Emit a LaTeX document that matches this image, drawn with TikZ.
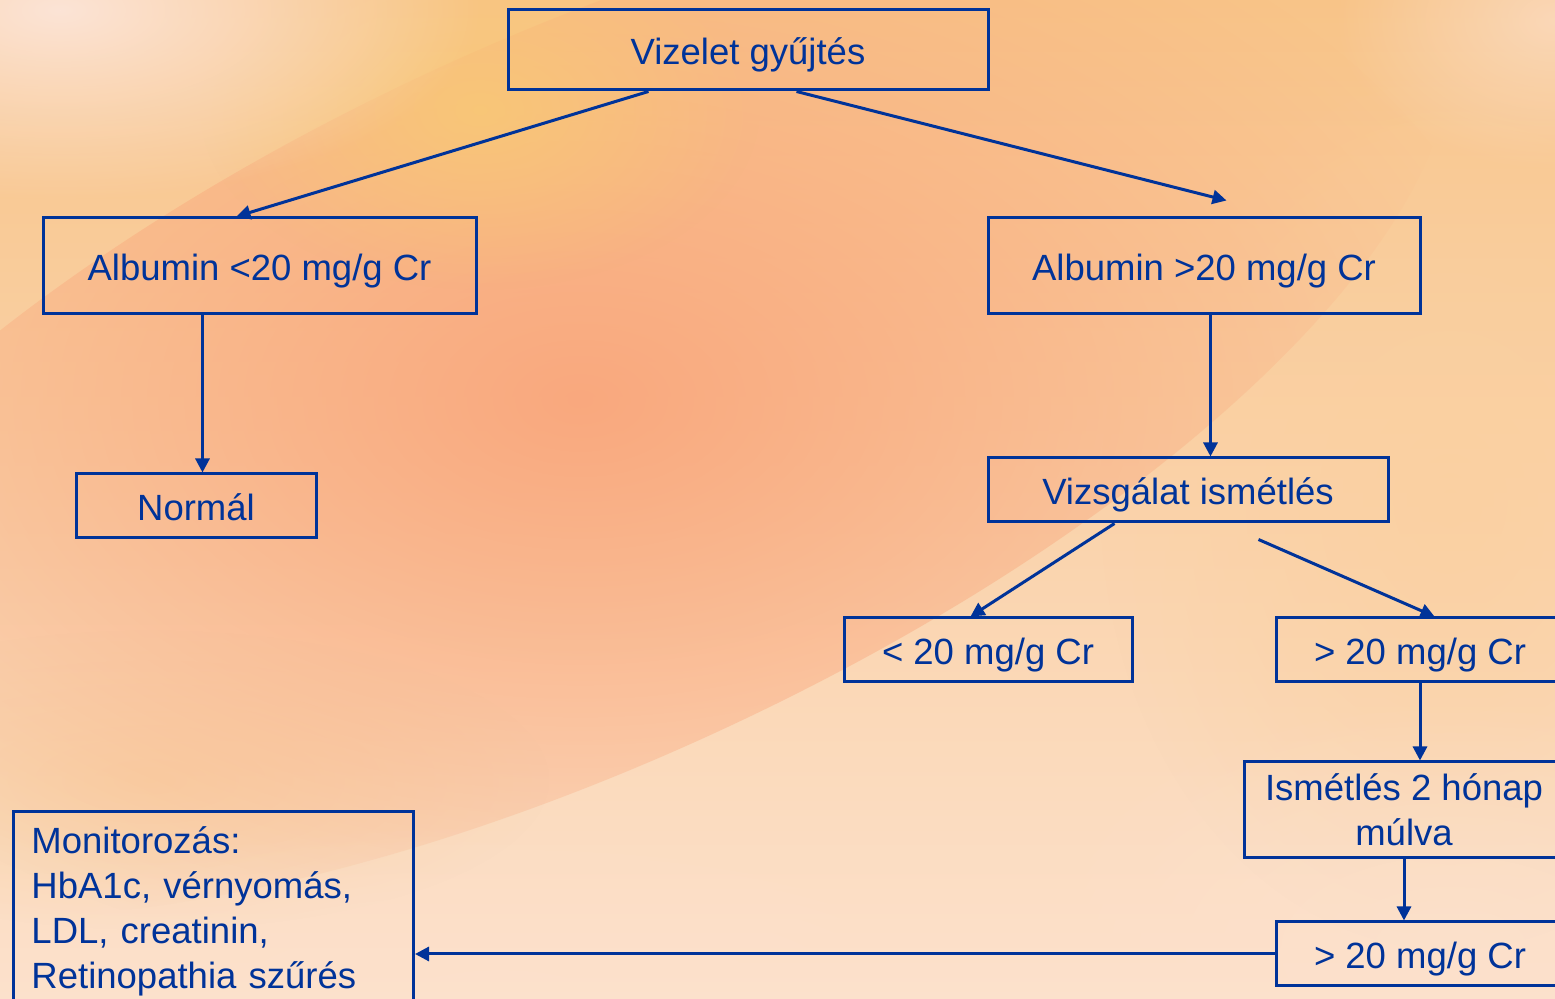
\documentclass[tikz,border=0pt]{standalone}
\usepackage{fontspec}
\setmainfont{Liberation Sans}
\usetikzlibrary{arrows.meta,calc,fadings}
\definecolor{dblue}{RGB}{0,51,153}
\definecolor{bgtop}{RGB}{248,196,136}
\definecolor{bgmid}{RGB}{249,190,140}
\definecolor{bgbot}{RGB}{252,225,204}
\definecolor{salmon}{RGB}{249,164,122}
\definecolor{yel}{RGB}{248,200,118}
\definecolor{pale}{RGB}{252,228,214}
\definecolor{peach}{RGB}{250,208,160}
\tikzfading[name=softedge, inner color=transparent!0, outer color=transparent!100]
\newcommand{\fs}{\fontsize{18.25pt}{22.5pt}\selectfont}
\tikzset{
  box/.style={draw=dblue, line width=1.5pt, text=dblue, inner sep=0pt, font=\fs},
  one/.style={text height=18pt, text depth=3.7pt},
  conn/.style={draw=dblue, line width=1.5pt, -{Triangle[length=7pt,width=7pt]}}
}
\begin{document}
\begin{tikzpicture}[x=0.5pt,y=-0.5pt]
\useasboundingbox (0,0) rectangle (1555,999);
\clip (0,0) rectangle (1555,999);
% background
\shade[top color=bgtop, middle color=bgmid, bottom color=bgbot] (0,0) rectangle (1555,999);
\fill[peach, path fading=softedge, opacity=0.8] (1450,500) ellipse (350 and 450);
\fill[peach, path fading=softedge, opacity=0.7] (150,780) ellipse (400 and 150);
\fill[salmon, path fading=softedge, opacity=0.9, rotate around={25:(580,400)}] (580,400) ellipse (950 and 360);
\fill[yel, path fading=softedge, opacity=0.9] (480,110) ellipse (280 and 180);
\fill[pale, path fading=softedge] (60,10) ellipse (420 and 190);
\fill[pale, path fading=softedge, opacity=0.6] (1555,20) ellipse (220 and 150);
\fill[bgbot, path fading=softedge, opacity=0.8] (1450,950) ellipse (450 and 250);
\fill[bgbot, path fading=softedge, opacity=0.6] (500,1000) ellipse (600 and 180);

% nodes
\node[box, one, minimum width=240pt, minimum height=40pt] (viz) at (748,50) {Vizelet gyűjtés};
\node[box, one, minimum width=216.5pt, minimum height=48pt] (a1) at (259.5,266) {Albumin <20 mg/g Cr};
\node[box, one, minimum width=216pt, minimum height=48pt] (a2) at (1204,266) {Albumin >20 mg/g Cr};
\node[box, one, minimum width=120pt, minimum height=32pt] (norm) at (196,506) {Normál};
\node[box, one, minimum width=200pt, minimum height=32pt] (vizs) at (1188,490) {Vizsgálat ismétlés};
\node[box, one, minimum width=144pt, minimum height=32pt] (lt) at (988,650) {< 20 mg/g Cr};
\node[box, one, minimum width=144pt, minimum height=32pt] (gt1) at (1420,650) {> 20 mg/g Cr};
\node[box, minimum width=160pt, minimum height=48pt, align=center] (ism) at (1404,810) {Ismétlés 2 hónap\\múlva};
\node[box, one, minimum width=144pt, minimum height=32pt] (gt2) at (1420,954) {> 20 mg/g Cr};
\node[box, anchor=north west, minimum height=100pt, text width=182pt, inner xsep=9pt, align=left] (mon) at (12,810)
  {Monitorozás:\\HbA1c, vérnyomás,\\LDL, creatinin,\\Retinopathia szűrés};

% connectors
\coordinate (freeR) at ([xshift=136pt,yshift=-8pt]vizs.south west);
\draw[conn] ([xshift=71pt]viz.south west) -- ([xshift=97.5pt]a1.north west);
\draw[conn] ([xshift=145pt]viz.south west) -- ([xshift=120pt,yshift=8pt]a2.north west);
\draw[conn] ([xshift=80.5pt]a1.south west) -- ([xshift=80.5pt]a1.south west |- norm.north);
\draw[conn] ([xshift=112pt]a2.south west) -- ([xshift=112pt]a2.south west |- vizs.north);
\draw[conn] ([xshift=64pt]vizs.south west) -- ([xshift=64pt]lt.north west);
\draw[conn] (freeR) -- ([xshift=80pt]gt1.north west);
\draw[conn] (gt1.south) -- (gt1.south |- ism.north);
\draw[conn] (ism.south) -- (ism.south |- gt2.north);
\draw[conn] (gt2.west) -- (gt2.west -| mon.east);
\end{tikzpicture}
\end{document}
